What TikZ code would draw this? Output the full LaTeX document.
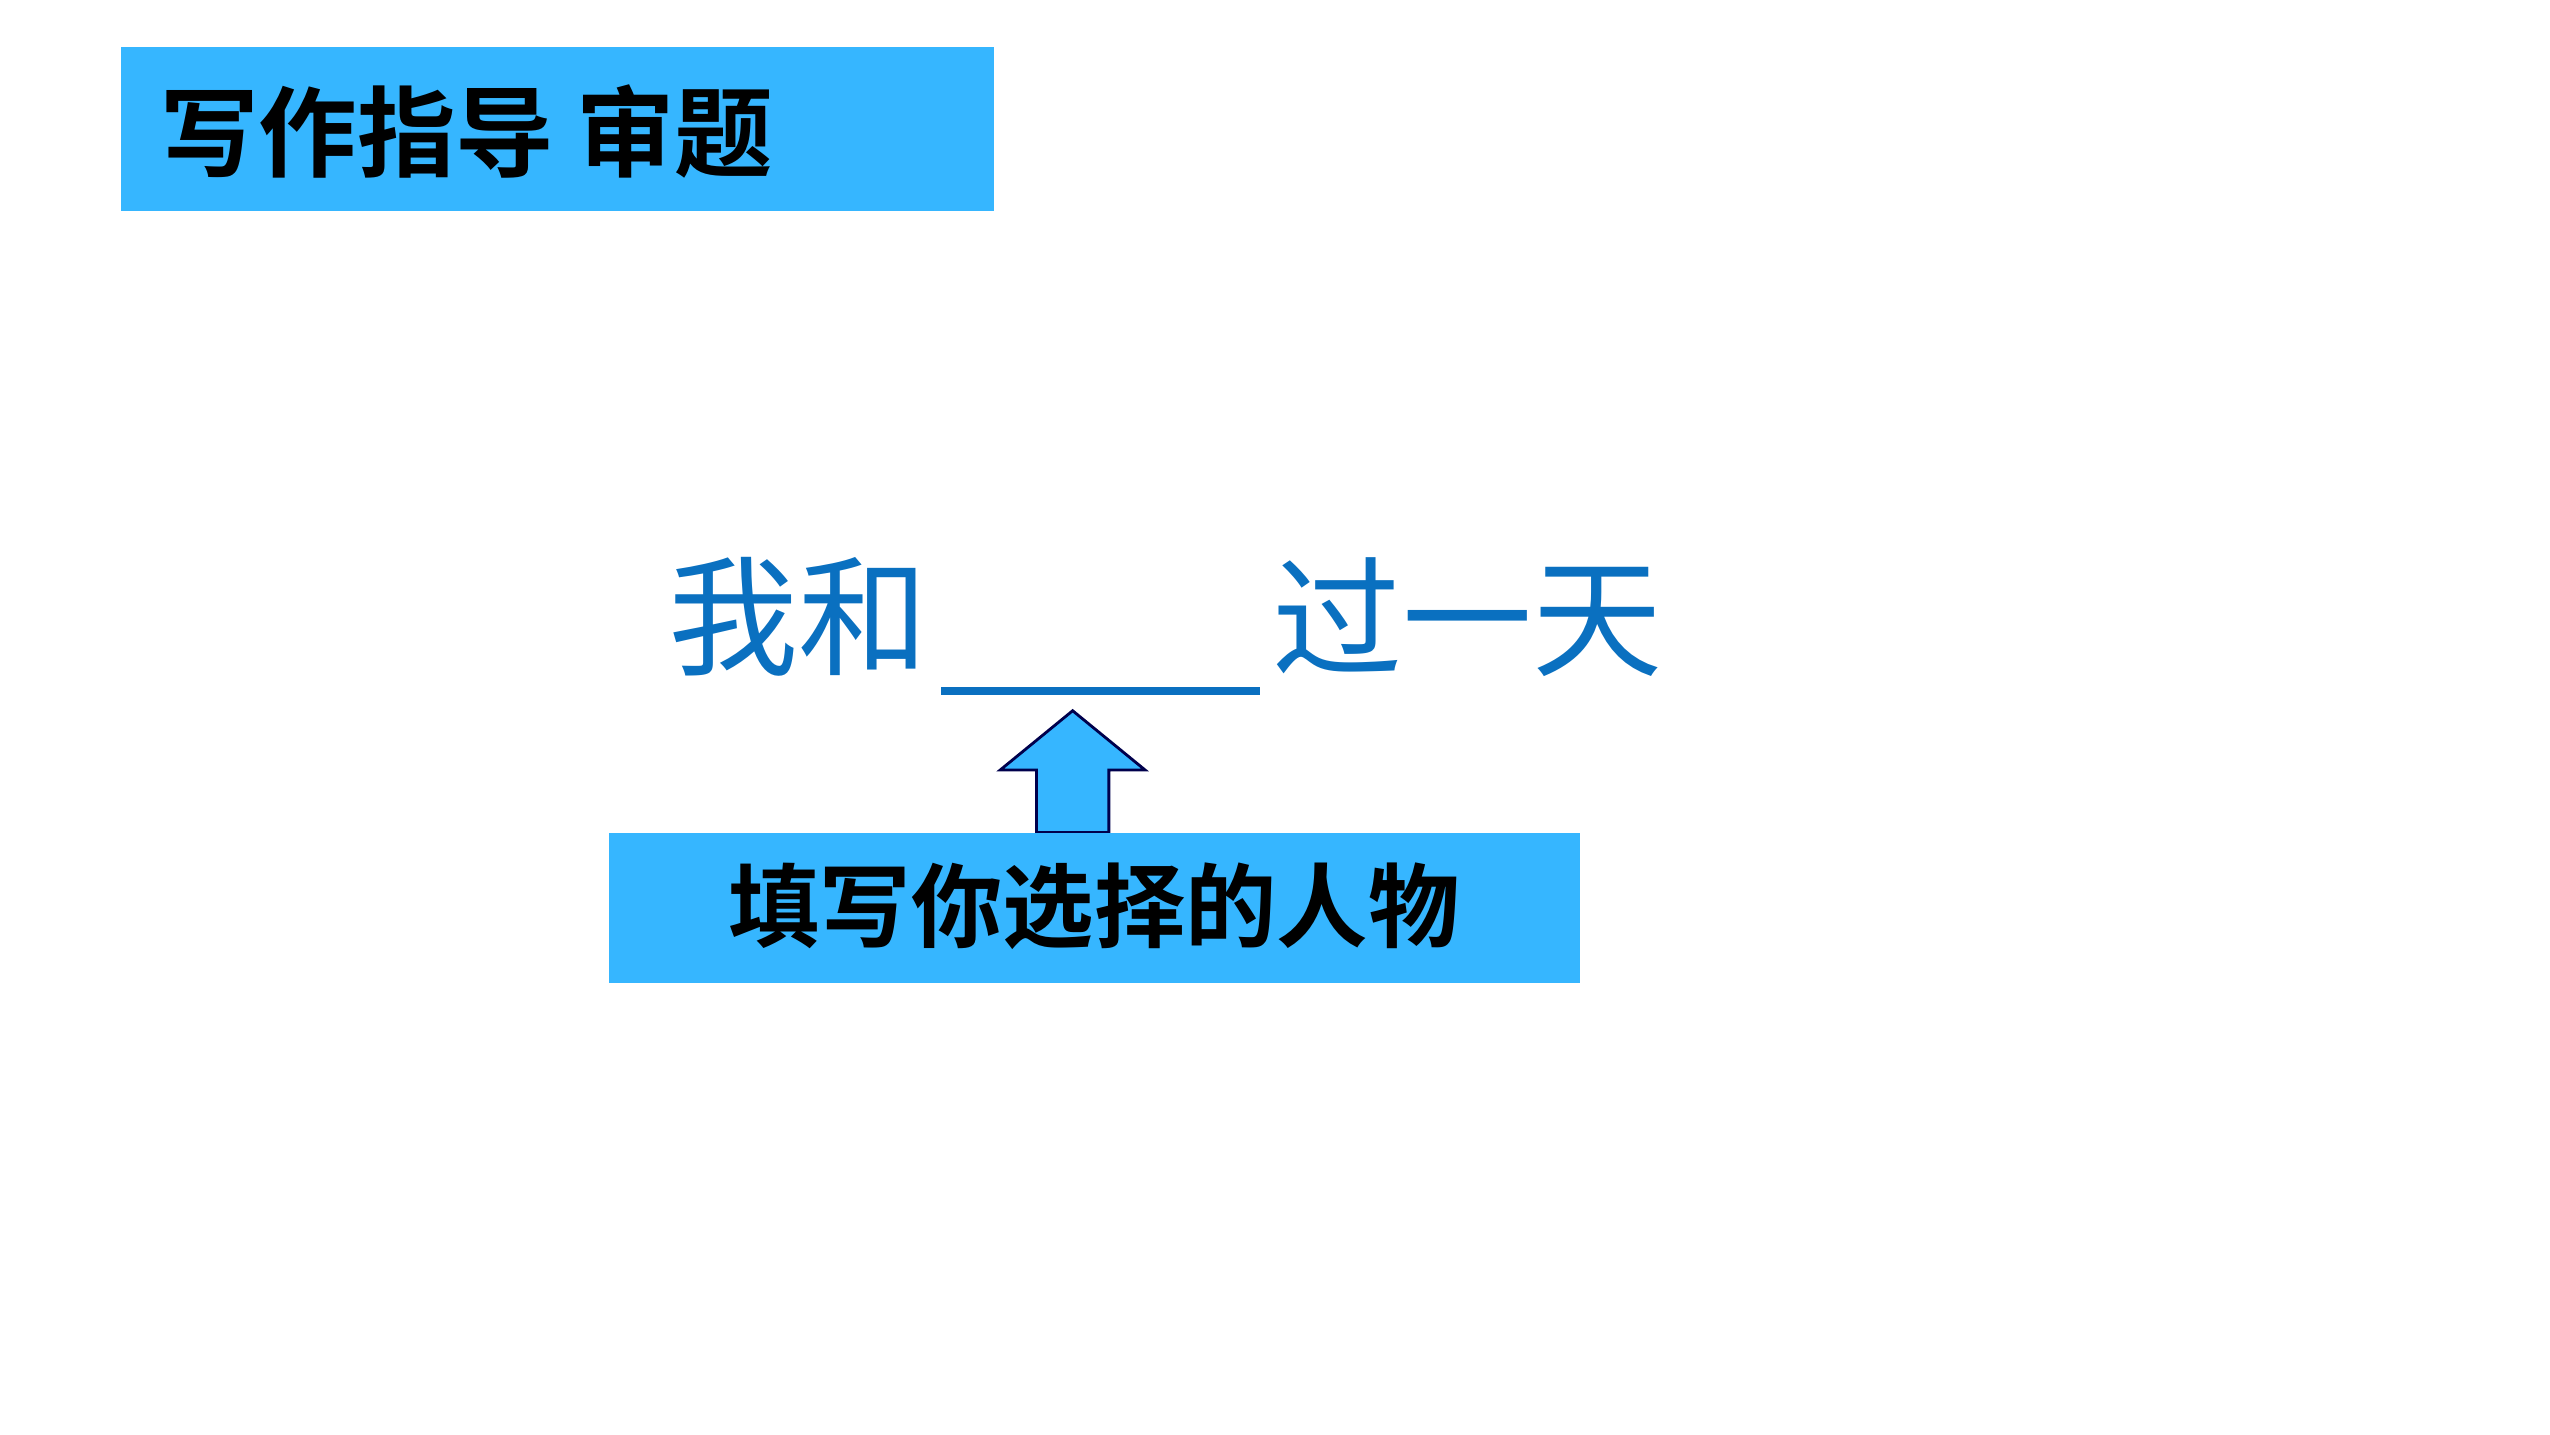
\documentclass[tikz,border=0pt]{standalone}
\usepackage{fontspec}
\newfontfamily\cjk{Noto Sans CJK SC}
\newfontfamily\cjkb{Noto Sans CJK SC Bold}
\definecolor{boxblue}{HTML}{36B6FF}
\definecolor{textblue}{HTML}{0A70C0}
\tikzset{
  banner/.style={fill=boxblue, inner sep=0pt, anchor=north west},
  bannertext/.style={font=\cjkb\fontsize{28}{30}\selectfont, anchor=west},
}
\begin{document}
\begin{tikzpicture}[x=0.016452cm, y=-0.016452cm]
\useasboundingbox (0,0) rectangle (1550,872);
% Title banner
    \node[banner, minimum width=531*0.016452cm, minimum height=100*0.016452cm] (title) at (73,28) {};
    \node[bannertext] (titletext) at (90,80) {写作指导\ 审题};
% Topic line
    \node[font=\cjk\fontsize{37}{40}\selectfont, text=textblue, anchor=east] (left) at (572,375) {我和};
    \node[font=\cjk\fontsize{37}{40}\selectfont, text=textblue, anchor=west] (right) at (766,375) {过一天};
    \coordinate (blankl) at (572,420);
    \coordinate (blankr) at (766,420);
    \draw[textblue, line width=2.2pt] (blankl) -- (blankr);
% Arrow
    \draw[fill=boxblue, draw=black!70!blue, line width=0.8pt]
      (652,432) -- (696,468) -- (674,468) -- (674,506) -- (630,506) -- (630,468) -- (608,468) -- cycle;
% Hint banner
    \node[banner, minimum width=590*0.016452cm, minimum height=91*0.016452cm] (hint) at (370,506) {};
    \node[font=\cjkb\fontsize{26}{28}\selectfont] (hinttext) at (665,551) {填写你选择的人物};
\end{tikzpicture}
\end{document}
